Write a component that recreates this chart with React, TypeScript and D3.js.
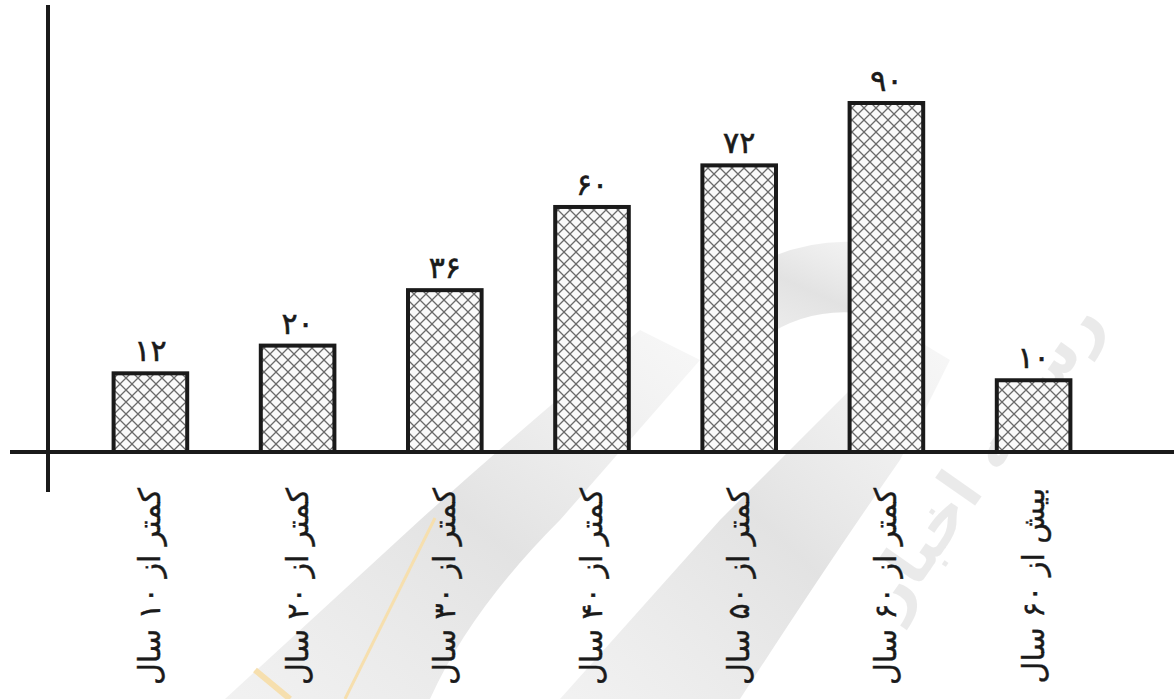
import React from "react";
import * as d3 from "d3";

const categories = [
  "کمتر از ۱۰ سال",
  "کمتر از ۲۰ سال",
  "کمتر از ۳۰ سال",
  "کمتر از ۴۰ سال",
  "کمتر از ۵۰ سال",
  "کمتر از ۶۰ سال",
  "بیش از ۶۰ سال",
];
const values = [12, 20, 36, 60, 72, 90, 10];
const valueLabels = ["۱۲", "۲۰", "۳۶", "۶۰", "۷۲", "۹۰", "۱۰"];

const W = 1174;
const H = 699;
const axisY = 452;
const yAxisX = 48;

export default function App() {
  const x = d3
    .scaleBand<string>()
    .domain(categories)
    .range([40, 1144])
    .paddingInner(0.5)
    .paddingOuter(0.5);
  const y = d3.scaleLinear().domain([-10.7, 90]).range([axisY, 103]);

  const font = "'DejaVu Sans', 'Noto Sans', sans-serif";

  return (
    <svg
      width={W}
      height={H}
      style={{ position: "absolute", left: 0, top: 0, background: "#fff" }}
    >
      <defs>
        <pattern
          id="hatch"
          width={12}
          height={12}
          patternUnits="userSpaceOnUse"
        >
          <rect width={12} height={12} fill="#fafafa" />
          <path d="M0,0 L12,12 M12,0 L0,12" stroke="#6a6a6a" strokeWidth={1.3} />
        </pattern>
        <linearGradient id="wm" x1="0" y1="1" x2="1" y2="0">
          <stop offset="0" stopColor="#e4e4e4" stopOpacity={0.5} />
          <stop offset="0.5" stopColor="#d6d6d6" stopOpacity={0.7} />
          <stop offset="1" stopColor="#ececec" stopOpacity={0.4} />
        </linearGradient>
      </defs>

      {/* faint watermark */}
      <g>
        <path
          d="M225,699 L420,520 Q520,430 640,330 L700,360 L560,520 Q470,610 430,699 Z"
          fill="url(#wm)"
        />
        <path
          d="M560,699 L720,520 Q800,440 860,380 L900,330 L950,360 L900,460 Q830,560 740,699 Z"
          fill="url(#wm)"
        />
        <path
          d="M700,300 Q800,220 900,250 L920,330 Q830,290 760,340 Z"
          fill="url(#wm)"
        />
        <text
          transform="translate(1000,470) rotate(-55)"
          textAnchor="middle"
          fontFamily={font}
          fontSize={64}
          fontWeight="bold"
          fill="#e2e2e2"
          opacity={0.7}
        >
          رسانه اخبار
        </text>
        <path d="M435,518 L345,699" stroke="#f6dfae" strokeWidth={3} />
        <path d="M255,670 L290,699" stroke="#f6dfae" strokeWidth={6} />
      </g>

      {/* bars */}
      {values.map((v, i) => (
        <rect
          key={i}
          x={x(categories[i])}
          y={y(v)}
          width={x.bandwidth()}
          height={axisY - y(v)}
          fill="url(#hatch)"
          stroke="#1a1a1a"
          strokeWidth={4}
        />
      ))}

      {/* value labels */}
      {values.map((v, i) => (
        <text
          key={i}
          x={(x(categories[i]) as number) + x.bandwidth() / 2}
          y={y(v) - 12}
          textAnchor="middle"
          fontFamily={font}
          fontSize={30}
          fill="#1a1a1a"
          stroke="#1a1a1a"
          strokeWidth={0.6}
        >
          {valueLabels[i]}
        </text>
      ))}

      {/* axes */}
      <line x1={10} x2={W} y1={axisY} y2={axisY} stroke="#1a1a1a" strokeWidth={4} />
      <line x1={yAxisX} x2={yAxisX} y1={5} y2={492} stroke="#1a1a1a" strokeWidth={4} />

      {/* category labels */}
      {categories.map((c, i) => {
        const cx = (x(c) as number) + x.bandwidth() / 2;
        const ty = axisY + 36;
        return (
          <text
            key={c}
            transform={`translate(${cx + 10},${ty}) rotate(-90)`}
            textAnchor="end"
            fontFamily={font}
            fontSize={30}
            fill="#1a1a1a"
            stroke="#1a1a1a"
            strokeWidth={0.4}
          >
            {c}
          </text>
        );
      })}
    </svg>
  );
}
